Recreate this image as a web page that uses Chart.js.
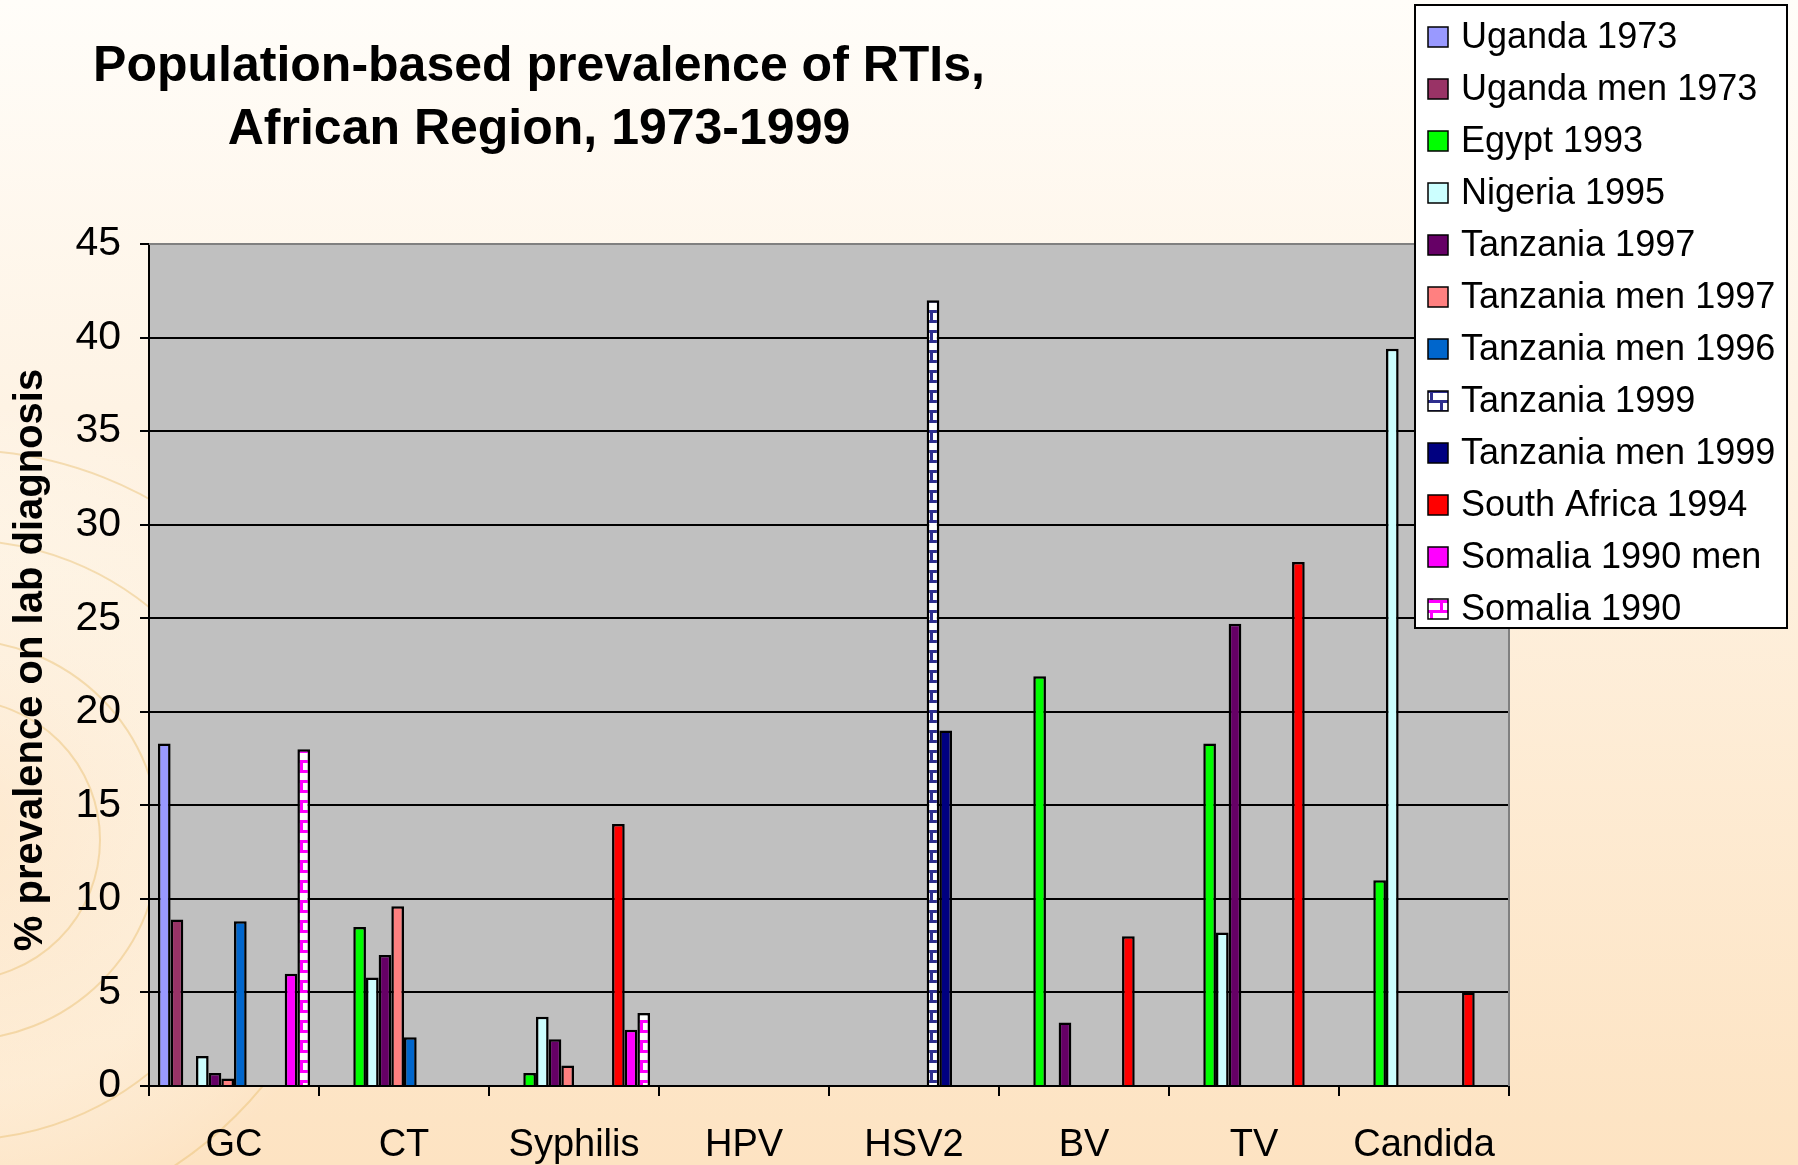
<!DOCTYPE html>
<html>
<head>
<meta charset="utf-8">
<style>
  html, body { margin: 0; padding: 0; background: #fff; }
  canvas { display: block; }
</style>
<script src="https://cdn.jsdelivr.net/npm/chart.js@4/dist/chart.umd.min.js"></script>
</head>
<body>
<canvas id="myChart" width="1798" height="1165"></canvas>
<script>
const categories = ['GC', 'CT', 'Syphilis', 'HPV', 'HSV2', 'BV', 'TV', 'Candida'];

const uganda1973      = [18.3, null, null, null, null, null, null, null];
const ugandaMen1973   = [8.9, null, null, null, null, null, null, null];
const egypt1993       = [null, 8.5, 0.7, null, null, 21.9, 18.3, 11.0];
const nigeria1995     = [1.6, 5.8, 3.7, null, null, null, 8.2, 39.4];
const tanzania1997    = [0.7, 7.0, 2.5, null, null, 3.4, 24.7, null];
const tanzaniaMen1997 = [0.4, 9.6, 1.1, null, null, null, null, null];
const tanzaniaMen1996 = [8.8, 2.6, null, null, null, null, null, null];
const tanzania1999    = [null, null, null, null, 42.0, null, null, null];
const tanzaniaMen1999 = [null, null, null, null, 19.0, null, null, null];
const southAfrica1994 = [null, null, 14.0, null, null, 8.0, 28.0, 5.0];
const somaliaMen1990  = [6.0, null, 3.0, null, null, null, null, null];
const somalia1990     = [18.0, null, 3.9, null, null, null, null, null];

const yTicks = [0, 5, 10, 15, 20, 25, 30, 35, 40, 45];

const FONT = '"Liberation Sans", Arial, sans-serif';
const canvas = document.getElementById('myChart');
const ctx = canvas.getContext('2d');

// brick hatch like the old Excel fill
function brick(color) {
  const c = document.createElement('canvas');
  c.width = 20;
  c.height = 20;
  const g = c.getContext('2d');
  g.fillStyle = '#ffffff';
  g.fillRect(0, 0, 20, 20);
  g.fillStyle = color;
  g.fillRect(0, 0, 20, 3);
  g.fillRect(0, 10, 20, 3);
  g.fillRect(0, 0, 3, 10);
  g.fillRect(10, 10, 3, 10);
  return ctx.createPattern(c, 'repeat');
}

const series = [
  { label: 'Uganda 1973', data: uganda1973, color: '#9999FF' },
  { label: 'Uganda men 1973', data: ugandaMen1973, color: '#993366' },
  { label: 'Egypt 1993', data: egypt1993, color: '#00FF00' },
  { label: 'Nigeria 1995', data: nigeria1995, color: '#CCFFFF' },
  { label: 'Tanzania 1997', data: tanzania1997, color: '#660066' },
  { label: 'Tanzania men 1997', data: tanzaniaMen1997, color: '#FF8080' },
  { label: 'Tanzania men 1996', data: tanzaniaMen1996, color: '#0066CC' },
  { label: 'Tanzania 1999', data: tanzania1999, color: brick('#2E2E8F') },
  { label: 'Tanzania men 1999', data: tanzaniaMen1999, color: '#000080' },
  { label: 'South Africa 1994', data: southAfrica1994, color: '#FF0000' },
  { label: 'Somalia 1990 men', data: somaliaMen1990, color: '#FF00FF' },
  { label: 'Somalia 1990', data: somalia1990, color: brick('#FF00FF') }
];

const backdrop = {
  id: 'backdrop',
  beforeDraw(chart) {
    const c = chart.ctx;
    const w = chart.width, h = chart.height;
    c.save();
    const grad = c.createLinearGradient(0, 0, 0, h);
    grad.addColorStop(0, '#FFFDF9');
    grad.addColorStop(0.35, '#FEF3E4');
    grad.addColorStop(1, '#FDE3C2');
    c.fillStyle = grad;
    c.fillRect(0, 0, w, h);

    // faint rings on the left
    const glow = c.createRadialGradient(-40, 820, 40, -40, 820, 420);
    glow.addColorStop(0, 'rgba(255,255,255,0.0)');
    glow.addColorStop(0.6, 'rgba(255,250,240,0.35)');
    glow.addColorStop(1, 'rgba(255,255,255,0)');
    c.fillStyle = glow;
    c.fillRect(0, 300, 500, 865);
    c.strokeStyle = 'rgba(232,190,110,0.45)';
    c.lineWidth = 2;
    [140, 200, 300, 390].forEach(r => {
      c.beginPath();
      c.arc(-40, 840, r, 0, Math.PI * 2);
      c.stroke();
    });

    const a = chart.chartArea;
    c.fillStyle = '#C0C0C0';
    c.fillRect(a.left, a.top, a.right - a.left, a.bottom - a.top);
    c.restore();
  },
  afterDraw(chart) {
    const c = chart.ctx;
    const a = chart.chartArea;
    c.save();
    // plot frame right side
    c.strokeStyle = '#808080';
    c.lineWidth = 2;
    c.beginPath();
    c.moveTo(a.left, a.top);
    c.lineTo(a.right, a.top);
    c.lineTo(a.right, a.bottom);
    c.stroke();

    // title
    c.fillStyle = '#000';
    c.textAlign = 'center';
    c.textBaseline = 'alphabetic';
    c.font = 'bold 50px ' + FONT;
    c.fillText('Population-based prevalence of RTIs,', 539, 81);
    c.fillText('African Region, 1973-1999', 539, 144);

    // y axis title
    c.save();
    c.translate(31, 660);
    c.rotate(-Math.PI / 2);
    c.textBaseline = 'middle';
    c.font = 'bold 40px ' + FONT;
    c.fillText('% prevalence on lab diagnosis', 0, 0);
    c.restore();

    // legend box
    const lx = 1415, ly = 5, lw = 372, lh = 623;
    c.fillStyle = '#ffffff';
    c.fillRect(lx, ly, lw, lh);
    c.strokeStyle = '#000';
    c.lineWidth = 2;
    c.strokeRect(lx, ly, lw, lh);
    c.font = '36px ' + FONT;
    c.textAlign = 'left';
    c.textBaseline = 'middle';
    chart.data.datasets.forEach((ds, i) => {
      const cy = 37 + i * 52;
      c.fillStyle = ds.backgroundColor;
      c.fillRect(1428, cy - 10, 20, 20);
      c.strokeStyle = '#000';
      c.lineWidth = 1.5;
      c.strokeRect(1428, cy - 10, 20, 20);
      c.fillStyle = '#000';
      c.fillText(ds.label, 1461, cy + 1);
    });
    c.restore();
  }
};

new Chart(ctx, {
  type: 'bar',
  data: {
    labels: categories,
    datasets: series.map(s => ({
      label: s.label,
      data: s.data,
      backgroundColor: s.color,
      borderColor: '#000000',
      borderWidth: 2.5,
      borderSkipped: 'start',
      categoryPercentage: 0.895,
      barPercentage: 1.0
    }))
  },
  options: {
    responsive: false,
    animation: false,
    events: [],
    layout: { padding: { top: 244, right: 289, bottom: 0, left: 0 } },
    plugins: {
      legend: { display: false },
      title: { display: false },
      tooltip: { enabled: false }
    },
    scales: {
      x: {
        afterFit(scale) { scale.height = 79; },
        grid: {
          offset: true,
          drawOnChartArea: false,
          color: '#000',
          lineWidth: 2,
          tickLength: 10
        },
        border: { display: true, color: '#000', width: 2 },
        ticks: {
          color: '#000',
          padding: 27,
          font: { family: FONT, size: 38 }
        }
      },
      y: {
        min: 0,
        max: 45,
        afterFit(scale) { scale.width = 149; },
        afterBuildTicks(scale) {
          scale.ticks = yTicks.map(v => ({ value: v }));
        },
        grid: {
          color: c => (c.tick && c.tick.value === 45 ? '#808080' : '#000'),
          tickColor: '#000',
          lineWidth: 2,
          tickLength: 9
        },
        border: { display: true, color: '#000', width: 2 },
        ticks: {
          color: '#000',
          padding: 19,
          font: { family: FONT, size: 41 }
        }
      }
    }
  },
  plugins: [backdrop]
});
</script>
</body>
</html>
